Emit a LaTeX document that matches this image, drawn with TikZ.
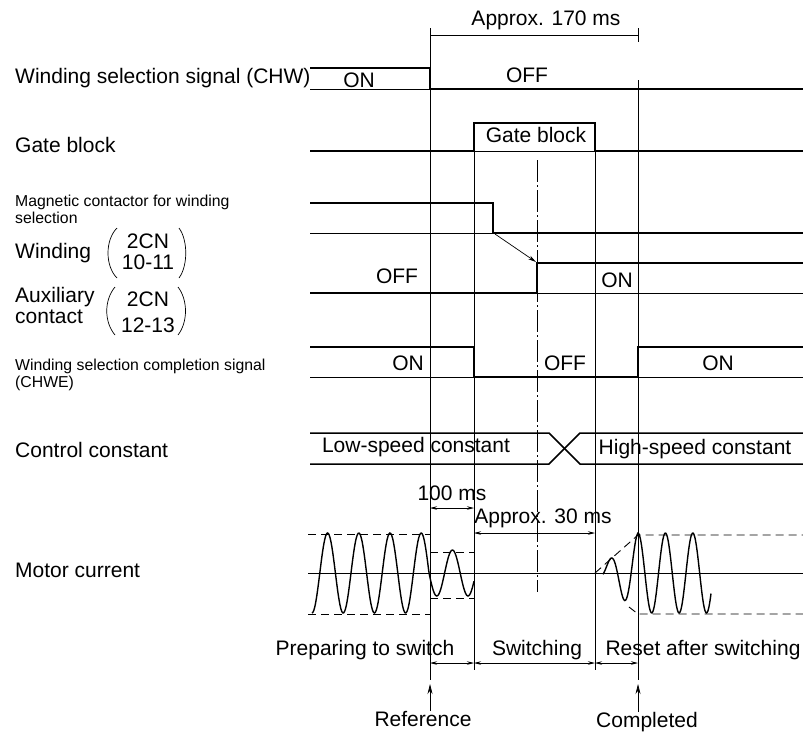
\documentclass[tikz,border=0pt]{standalone}
\usepackage{fontspec}
\setmainfont{Liberation Sans}
\usetikzlibrary{arrows.meta,calc,positioning}

\tikzset{
  sig/.style={line width=1.5pt,line join=miter},
  grid/.style={line width=0.7pt},
  dashdot/.style={line width=0.7pt,dash pattern=on 22pt off 3pt on 2pt off 3pt},
  env/.style={line width=0.9pt,dash pattern=on 8pt off 5pt},
  wave/.style={line width=1.4pt},
  dim/.style={line width=0.7pt,{Stealth[length=7pt,width=3.5pt]}-{Stealth[length=7pt,width=3.5pt]}},
  lbl/.style={font=\fontsize{21}{24}\selectfont,inner sep=0pt},
  small/.style={font=\fontsize{15.8}{18}\selectfont,inner sep=0pt}
}

\begin{document}
\begin{tikzpicture}[x=1pt,y=-1pt]
  \useasboundingbox (0,0) rectangle (803,734);

  % row labels
  \node[lbl,anchor=base west] (lchw) at (15,83) {Winding selection signal (CHW)};
  \node[lbl,anchor=base west] (lgate) at (15,152) {Gate block};
  \node[small,anchor=base west] (lmc1) at (15,206) {Magnetic contactor for winding};
  \node[small,anchor=base west] (lmc2) at (15,223) {selection};
  \node[lbl,anchor=base west] (lwind) at (15,258) {Winding};
  \node[lbl,anchor=base] (wcn) at (148,248) {2CN};
  \node[lbl,anchor=base] (wpin) at (148,269) {10-11};
  \node[lbl,anchor=base west] (laux1) at (15,302) {Auxiliary};
  \node[lbl,anchor=base west] (laux2) at (15,323) {contact};
  \node[lbl,anchor=base] (acn) at (148,306) {2CN};
  \node[lbl,anchor=base] (apin) at (148,332) {12-13};
  \node[small,anchor=base west] (lchwe1) at (15,370) {Winding selection completion signal};
  \node[small,anchor=base west] (lchwe2) at (15,387) {(CHWE)};
  \node[lbl,anchor=base west] (lctrl) at (15,457) {Control constant};
  \node[lbl,anchor=base west] (lmot) at (15,577) {Motor current};

  % brackets
  \draw[grid] (117,228) .. controls (105,240) and (105,266) .. (117,278);
  \draw[grid] (179,228) .. controls (188,240) and (188,266) .. (179,278);
  \draw[grid] (115,287) .. controls (104,300) and (104,322) .. (115,335);
  \draw[grid] (178,287) .. controls (188,300) and (188,322) .. (178,335);

  % time marks
  \draw[grid] (430,28) -- (430,680);
  \draw[grid] (638,28) -- (638,42);
  \draw[grid] (638,80) -- (638,680);
  \draw[grid] (474,123) -- (474,670);
  \draw[grid] (595,123) -- (595,670);
  \draw[dashdot] (537,160) -- (537,592);

  % approx. 170 ms
  \draw[grid] (430,35) -- (638,35);
  \node[lbl,anchor=base] (t170) at (546,25) {Approx. 170 ms};

  % CHW
  \draw[grid] (310,89) -- (430,89);
  \draw[sig] (310,68) -- (430,68) -- (430,89) -- (803,89);
  \node[lbl,anchor=base] (chwon) at (359,87) {ON};
  \node[lbl,anchor=base] (chwoff) at (527,82) {OFF};

  % gate block
  \draw[grid] (474,151) -- (595,151);
  \draw[sig] (310,151) -- (474,151) -- (474,123) -- (595,123) -- (595,151) -- (803,151);
  \node[lbl,anchor=base] (gb) at (536,142) {Gate block};

  % magnetic contactor
  \draw[grid] (310,233) -- (493,233);
  \draw[sig] (310,203) -- (493,203) -- (493,233) -- (803,233);
  \draw[grid] (537,293) -- (803,293);
  \draw[sig] (310,293) -- (537,293) -- (537,263) -- (803,263);
  \coordinate (mcfrom) at (495,234);
  \coordinate (mcto) at (536,262);
  \draw[grid,-{Stealth[length=8pt,width=4pt]}] (mcfrom) -- (mcto);
  \node[lbl,anchor=base] (auxoff) at (397,283) {OFF};
  \node[lbl,anchor=base] (auxon) at (617,287) {ON};

  % CHWE
  \draw[grid] (310,377) -- (474,377) (638,377) -- (803,377);
  \draw[sig] (310,347) -- (474,347) -- (474,377) -- (638,377) -- (638,347) -- (803,347);
  \node[lbl,anchor=base] (chweon) at (408,370) {ON};
  \node[lbl,anchor=base] (chweoff) at (565,370) {OFF};
  \node[lbl,anchor=base] (chweon2) at (718,370) {ON};

  % control constant
  \draw[sig] (310,433) -- (549,433) -- (580,464) -- (803,464);
  \draw[sig] (310,464) -- (549,464) -- (580,433) -- (803,433);
  \node[lbl,anchor=base] (low) at (416,452) {Low-speed constant};
  \node[lbl,anchor=base] (high) at (695,454) {High-speed constant};

  % motor current
  \draw[grid,line width=0.9pt] (308,573) -- (803,573);
  \draw[env] (308,534) -- (430,534) (308,614) -- (430,614);
  \draw[env] (430,552) -- (474,552) (430,598) -- (474,598);
  \draw[env] (595,573) -- (638,535) -- (803,535);
  \draw[env] (629,607) -- (638,614) -- (803,614);
  \draw[wave] plot[domain=312:474,samples=180,smooth]
    (\x,{573+(\x<429?40:23)*cos(11.5385*(\x-312))});
  \draw[wave] plot[domain=603:711,samples=140,smooth]
    (\x,{573-(\x<638?0.9302*(\x-595):40)*cos(13.1387*(\x-638))});

  \draw[dim] (430,508) -- (474,508);
  \node[lbl,anchor=base] (t100) at (452,500) {100 ms};
  \draw[dim] (474,533) -- (595,533);
  \node[lbl,anchor=base] (t30) at (543,523) {Approx. 30 ms};

  % phases
  \node[lbl,anchor=base] (prep) at (365,655) {Preparing to switch};
  \node[lbl,anchor=base] (swit) at (537,655) {Switching};
  \node[lbl,anchor=base] (reset) at (703,655) {Reset after switching};
  \draw[dim] (430,663) -- (474,663);
  \draw[dim] (474,663) -- (595,663);
  \draw[dim] (595,663) -- (638,663);

  % reference / completed
  \node[lbl,anchor=base] (ref) at (423,726) {Reference};
  \node[lbl,anchor=base] (done) at (647,727) {Completed};
  \coordinate (reftip) at (430,684);
  \coordinate (donetip) at (638,684);
  \draw[grid,-{Stealth[length=10pt,width=5pt]}] (reftip |- ref.north) -- (reftip);
  \draw[grid,-{Stealth[length=10pt,width=5pt]}] (donetip |- done.north) -- (donetip);
\end{tikzpicture}
\end{document}
